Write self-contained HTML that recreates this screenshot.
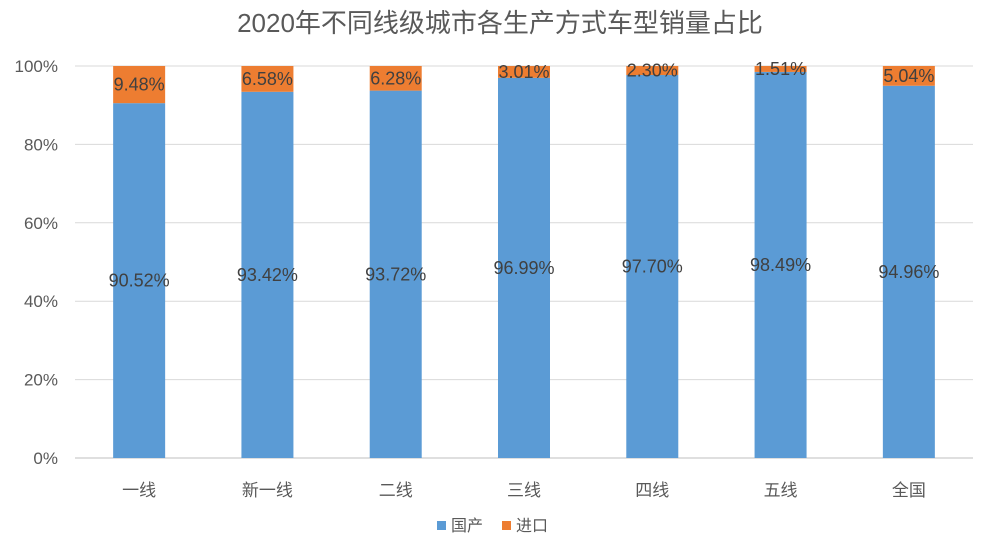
<!DOCTYPE html>
<html><head><meta charset="utf-8"><style>
body{margin:0;background:#fff;}
svg{display:block;font-family:"Liberation Sans","Noto Sans CJK SC",sans-serif;}
</style></head><body>
<svg id="c" width="1001" height="547">
<text x="500" y="32" text-anchor="middle" font-size="26" fill="#595959">2020年不同线级城市各生产方式车型销量占比</text>
<g id="grid"></g><g id="bars"></g><g id="labels"></g>
<g>
<rect x="437" y="521" width="9" height="9" fill="#5b9bd5"/>
<text x="451" y="531" font-size="16" fill="#595959">国产</text>
<rect x="502" y="521" width="9" height="9" fill="#ed7d31"/>
<text x="516" y="531" font-size="16" fill="#595959">进口</text>
</g>
</svg>
<script>
const categories=["一线","新一线","二线","三线","四线","五线","全国"];
const domestic=[90.52,93.42,93.72,96.99,97.70,98.49,94.96];
const imported=[9.48,6.58,6.28,3.01,2.30,1.51,5.04];
const ticks=[0,20,40,60,80,100];
const ns="http://www.w3.org/2000/svg";
const X0=75,X1=973,Y0=458,Y1=66;
const band=(X1-X0)/categories.length,bw=52;
const y=v=>Y0-(v/100)*(Y0-Y1);
const xc=i=>X0+band*(i+0.5);
function mk(t,a,p,txt){const e=document.createElementNS(ns,t);for(const k in a)e.setAttribute(k,a[k]);if(txt!==undefined)e.textContent=txt;p.appendChild(e);return e;}
const g=document.getElementById('grid'),b=document.getElementById('bars'),l=document.getElementById('labels');
ticks.forEach(t=>{
const ln=mk('line',{x1:X0,x2:X1,y1:y(t),y2:y(t),stroke:t===0?'#bfbfbf':'#d9d9d9','stroke-width':1},g);


const tx=mk('text',{x:58,y:y(t)+6,'text-anchor':'end','font-size':17,fill:'#595959'},g,t+'%');


});
categories.forEach((c,i)=>{
const x=xc(i)-bw/2,d=domestic[i],m=imported[i];
const r1=mk('rect',{x:x,y:y(d),width:bw,height:Y0-y(d),fill:'#5b9bd5'},b);


const r2=mk('rect',{x:x,y:y(d+m),width:bw,height:y(d)-y(d+m),fill:'#ed7d31'},b);


const t1=mk('text',{x:xc(i),y:(y(d)+Y0)/2+6,'text-anchor':'middle','font-size':18,fill:'#404040'},l,d.toFixed(2)+'%');


const t2=mk('text',{x:xc(i),y:(y(d)+y(d+m))/2+6,'text-anchor':'middle','font-size':18,fill:'#404040'},l,m.toFixed(2)+'%');


const cx=mk('text',{x:xc(i),y:496,'text-anchor':'middle','font-size':17,fill:'#595959'},l,c);


});
</script>
</body></html>
